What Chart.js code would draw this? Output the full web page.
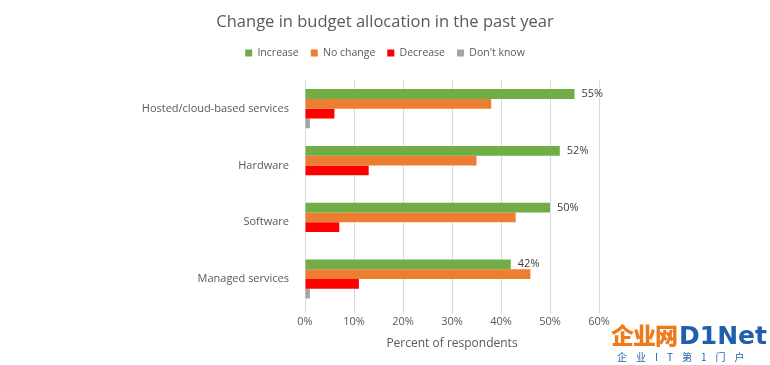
<!DOCTYPE html>
<html>
<head>
<meta charset="utf-8">
<script src="https://cdn.jsdelivr.net/npm/chart.js@4/dist/chart.umd.min.js"></script>
<style>
  html, body { margin: 0; padding: 0; background: #fff; }
  #wrap { position: relative; width: 770px; height: 365px; }
  #wm { position: absolute; left: 611px; top: 320px; width: 159px; font-family: "Noto Sans CJK SC", sans-serif; }
  #wm .l1 { font-size: 23px; font-weight: 900; line-height: 28px; letter-spacing: -1px; white-space: nowrap; }
  #wm .cn { color: #f07a1a; }
  #wm .en { color: #1f5fae; font-family: "DejaVu Sans", sans-serif; font-weight: bold; font-size: 25px; letter-spacing: 0px; margin-left: 2px; }
  #wm .l2 { font-size: 10px; color: #2a64ad; letter-spacing: 9px; line-height: 14px; margin-left: 6px; white-space: nowrap; }
</style>
</head>
<body>
<div id="wrap">
  <canvas id="c" width="770" height="365"></canvas>
  <div id="wm"><div class="l1"><span class="cn">企业网</span><span class="en">D1Net</span></div><div class="l2">企业IT第1门户</div></div>
</div>
<script>
const categories = ["Hosted/cloud-based services", "Hardware", "Software", "Managed services"];
const increase = [55, 52, 50, 42];
const noChange = [38, 35, 43, 46];
const decrease = [6, 13, 7, 11];
const dontKnow = [1, 0, 0, 1];
const xTicks = [0, 10, 20, 30, 40, 50, 60];

const textColor = "#595959";
const fontFamily = "'Open Sans', 'Liberation Sans', sans-serif";

const labelPlugin = {
  id: "incLabels",
  afterDatasetsDraw(chart) {
    const ctx = chart.ctx;
    const meta = chart.getDatasetMeta(0);
    ctx.save();
    ctx.font = "11px " + fontFamily;
    ctx.fillStyle = "#404040";
    ctx.textAlign = "left";
    ctx.textBaseline = "middle";
    meta.data.forEach((bar, i) => {
      ctx.fillText(increase[i] + "%", bar.x + 7, bar.y);
    });
    ctx.restore();
  }
};

const legendSpace = {
  id: "legendSpace",
  beforeInit(chart) {
    const fit = chart.legend.fit;
    chart.legend.fit = function () {
      fit.call(this);
      this.height += 12;
    };
  }
};

new Chart(document.getElementById("c"), {
  type: "bar",
  data: {
    labels: categories,
    datasets: [
      { label: "Increase", data: increase, backgroundColor: "#70AD47" },
      { label: "No change", data: noChange, backgroundColor: "#ED7D31" },
      { label: "Decrease", data: decrease, backgroundColor: "#FF0000" },
      { label: "Don't know", data: dontKnow, backgroundColor: "#A5A5A5" }
    ]
  },
  options: {
    indexAxis: "y",
    responsive: false,
    animation: false,
    layout: { padding: { left: 10, right: 10, top: 6, bottom: 14 } },
    datasets: { bar: { categoryPercentage: 0.69, barPercentage: 1.0 } },
    plugins: {
      title: {
        display: true,
        text: "Change in budget allocation in the past year",
        color: textColor,
        font: { family: fontFamily, size: 16.5, weight: "normal" },
        padding: { top: 6, bottom: 4 }
      },
      legend: {
        display: true,
        labels: {
          color: textColor,
          font: { family: fontFamily, size: 10.5 },
          boxWidth: 7,
          boxHeight: 7,
          padding: 12
        }
      },
      tooltip: { enabled: false }
    },
    scales: {
      x: {
        min: 0,
        max: 60,
        afterBuildTicks(scale) { scale.ticks = xTicks.map(v => ({ value: v })); },
        ticks: {
          color: textColor,
          font: { family: fontFamily, size: 11 },
          callback: v => v + "%",
          padding: 2
        },
        grid: { color: "#D9D9D9", drawTicks: true, tickLength: 6 },
        border: { display: false },
        title: {
          display: true,
          text: "Percent of respondents",
          color: textColor,
          font: { family: fontFamily, size: 12 },
          padding: { top: 6, bottom: 0 }
        }
      },
      y: {
        ticks: {
          color: textColor,
          font: { family: fontFamily, size: 11 },
          padding: 8
        },
        grid: { display: false },
        border: { display: true, color: "#D9D9D9" },
        afterFit(scale) { scale.width = 295; }
      },
      yRight: {
        type: "category",
        position: "right",
        display: true,
        ticks: { display: false },
        grid: { display: false },
        border: { display: false },
        afterFit(scale) { scale.width = 161; }
      }
    }
  },
  plugins: [labelPlugin, legendSpace]
});
</script>
</body>
</html>
